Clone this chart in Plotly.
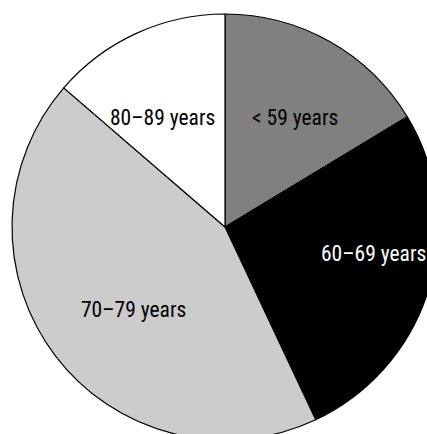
import plotly.graph_objects as go

# Data
categories = ["< 59 years", "60–69 years", "70–79 years", "80–89 years"]
shares = [16.35, 26.65, 43.33, 13.67]
colors = ["#808080", "#000000", "#cccccc", "#ffffff"]
label_colors = ["#000000", "#ffffff", "#000000", "#000000"]

# Label anchor positions in pixels of the 427x434 picture (x, y from top-left)
label_px = [(250, 117), (319, 253), (79, 309), (217, 117)]
label_anchor = ["left", "left", "left", "right"]

W, H = 450, 454
ML, MT = 12, 14
D = 426

fig = go.Figure(go.Pie(
    labels=categories,
    values=shares,
    sort=False,
    direction="clockwise",
    rotation=0,
    marker=dict(colors=colors, line=dict(color="#000000", width=1.2)),
    textinfo="none",
    hoverinfo="label+percent",
    showlegend=False,
    domain=dict(x=[0, 1], y=[0, 1]),
))

annotations = []
for name, (px, py), anc, col in zip(categories, label_px, label_anchor, label_colors):
    annotations.append(dict(
        text=name,
        x=(px - ML) / D, y=1 - (py - MT) / D,
        xref="paper", yref="paper",
        xanchor=anc, yanchor="middle",
        showarrow=False,
        font=dict(family="Liberation Sans Narrow, Arial Narrow, Roboto Condensed, sans-serif",
                  size=21.5, color=col),
    ))

fig.update_layout(
    width=W, height=H,
    margin=dict(l=ML, r=W - ML - D, t=MT, b=H - MT - D),
    paper_bgcolor="#ffffff",
    plot_bgcolor="#ffffff",
    annotations=annotations,
)

fig.write_html(
    "out.html",
    config={"displayModeBar": False},
    post_script="document.body.style.margin='0';document.body.style.overflow='hidden';document.documentElement.style.overflow='hidden';",
)
